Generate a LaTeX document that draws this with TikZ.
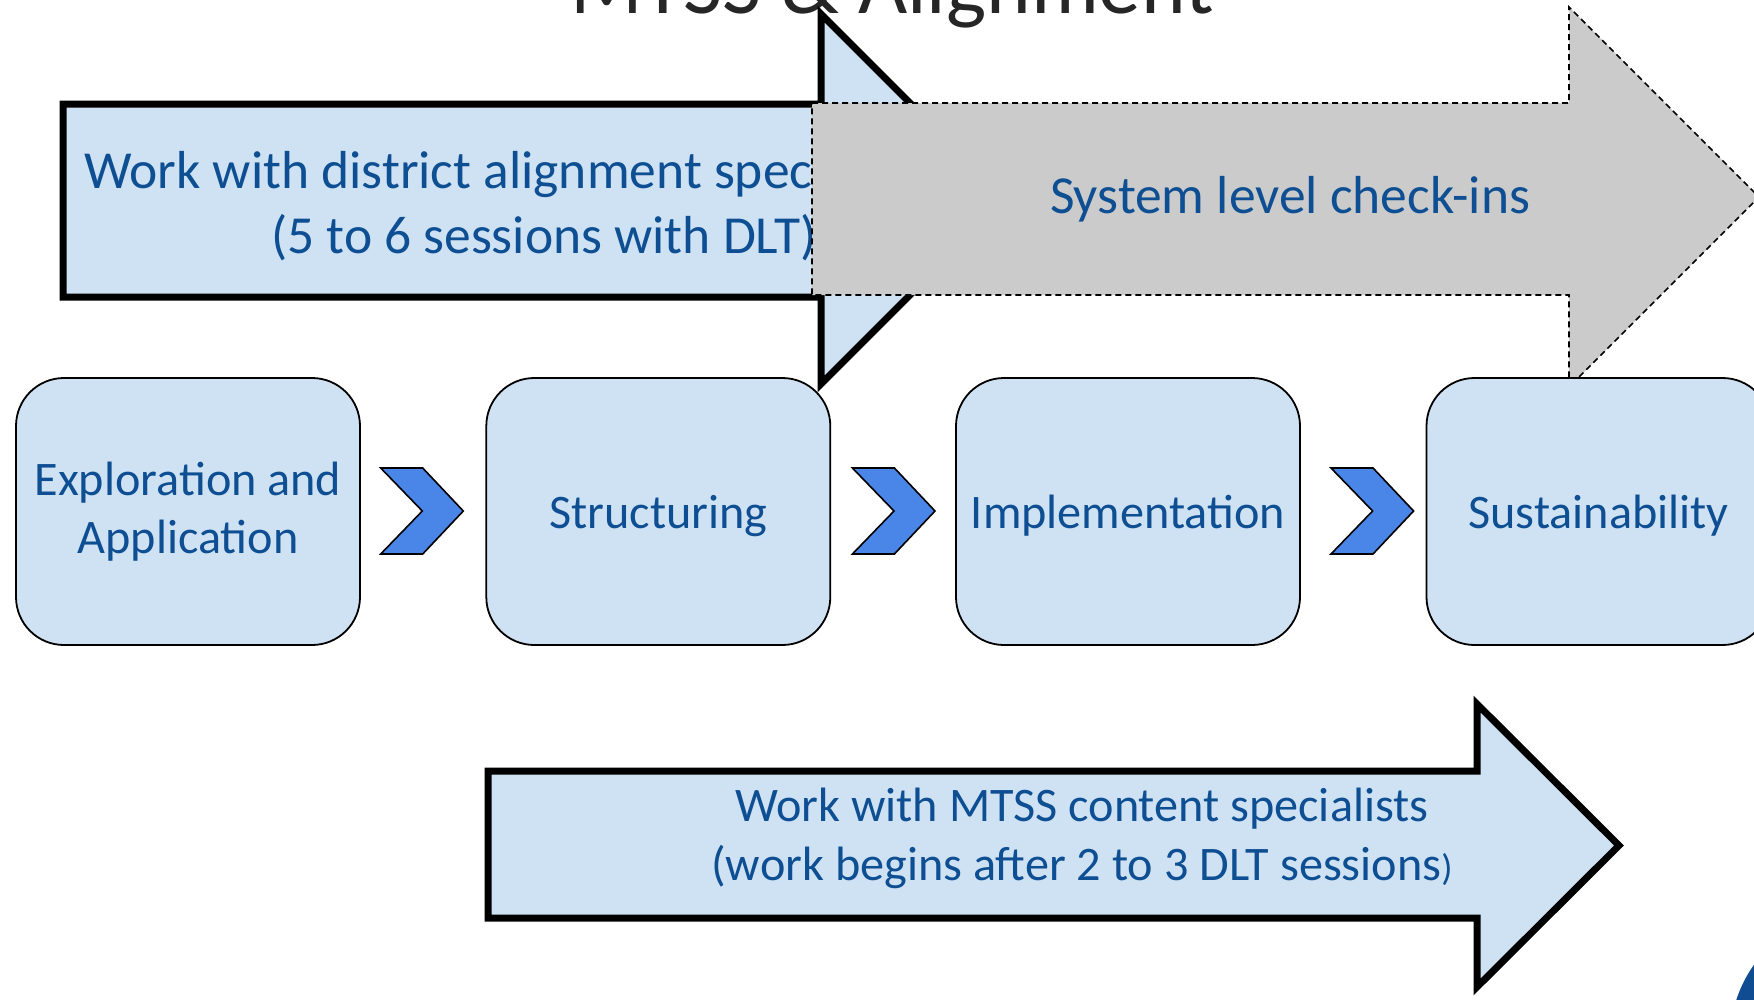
\documentclass[tikz,border=0pt]{standalone}
\usepackage{fontspec}
\setmainfont{Carlito}
\definecolor{boxfill}{HTML}{CFE2F3}
\definecolor{txtblue}{HTML}{0E4F93}
\definecolor{grayfill}{HTML}{CBCBCB}
\definecolor{chevfill}{HTML}{4A86E8}
\definecolor{logoblue}{HTML}{0F4C92}
\definecolor{titlegray}{HTML}{262626}
\begin{document}
\begin{tikzpicture}[x=1pt,y=-1pt,
  stagebox/.style={draw=black, line width=1.8pt, fill=boxfill, rounded corners=48pt,
    minimum width=344pt, minimum height=267pt, inner sep=0pt, text=txtblue,
    align=center, font=\fontsize{48.2}{58.5}\selectfont},
  bigarrow/.style={draw=black, line width=7pt, fill=boxfill, line join=miter, miter limit=10},
  grayarrow/.style={draw=black, line width=1.6pt, dash pattern=on 6pt off 4pt, fill=grayfill},
  chev/.style={draw=black, line width=1.6pt, fill=chevfill, line join=miter},
  lbl/.style={text=txtblue, inner sep=0pt}
]
\useasboundingbox (0,0) rectangle (1754,999);
\clip (0,0) rectangle (1754,999);

% title (cut off at the top)
\node[anchor=base, text=titlegray, inner sep=0pt, font=\fontsize{85}{100}\selectfont] (title) at (892,13) {MTSS \& Alignment};

% stage boxes
\node[stagebox] (s1) at (188,511.5) {};
\node[stagebox] (s2) at (658.3,511.5) {};
\node[stagebox] (s3) at (1128,511.5) {};
\node[lbl, align=center, font=\fontsize{48.2}{58}\selectfont] (s1t) at (188,511.5) {Exploration and\\Application};
\node[lbl, font=\fontsize{48.2}{58.5}\selectfont] (s2t) at (658.3,516) {Structuring};
\node[lbl, font=\fontsize{48.2}{58.5}\selectfont] (s3t) at (1128,516) {Implementation};

% top-left arrow
\draw[bigarrow] (63,104) -- (821,104) -- (821,14) -- (1006,199) -- (821,384) -- (821,297) -- (63,297) -- cycle;
\node[lbl, anchor=base west, font=\fontsize{53.5}{64}\selectfont] (t1a) at (84,188) {Work with district alignment specialists};
\node[lbl, anchor=base west, font=\fontsize{53.5}{64}\selectfont] (t1b) at (271,253) {(5 to 6 sessions with DLT)};

% grey dashed arrow
\draw[grayarrow] (812,103) -- (1569,103) -- (1569,7) -- (1759,197) -- (1569,387) -- (1569,295) -- (812,295) -- cycle;
\node[lbl, font=\fontsize{53.5}{64}\selectfont] (t2) at (1290,199) {System level check-ins};

% last stage box
\node[stagebox] (s4) at (1598.5,511.5) {};
\node[lbl, font=\fontsize{48.2}{58.5}\selectfont] (s4t) at (1598.5,516) {Sustainability};

% chevrons
\draw[chev, shift={(380.7,468)}] (0,0) -- (42,0) -- (82.6,43) -- (42,86) -- (0,86) -- (41.6,43) -- cycle;
\draw[chev, shift={(852.4,468)}] (0,0) -- (42,0) -- (82.6,43) -- (42,86) -- (0,86) -- (41.6,43) -- cycle;
\draw[chev, shift={(1331,468)}] (0,0) -- (42,0) -- (82.6,43) -- (42,86) -- (0,86) -- (41.6,43) -- cycle;

% bottom arrow
\draw[bigarrow] (488,771) -- (1477,771) -- (1477,704) -- (1619,845.5) -- (1477,987) -- (1477,918) -- (488,918) -- cycle;
\node[lbl, align=center, font=\fontsize{48.2}{58.5}\selectfont] (t3) at (1082,838.5) {Work with MTSS content specialists\\(work begins after 2 to 3 DLT sessions{\fontsize{37}{37}\selectfont)}};

% logo fragment
\fill[logoblue] (1860,1040) circle (130pt);
\end{tikzpicture}
\end{document}
